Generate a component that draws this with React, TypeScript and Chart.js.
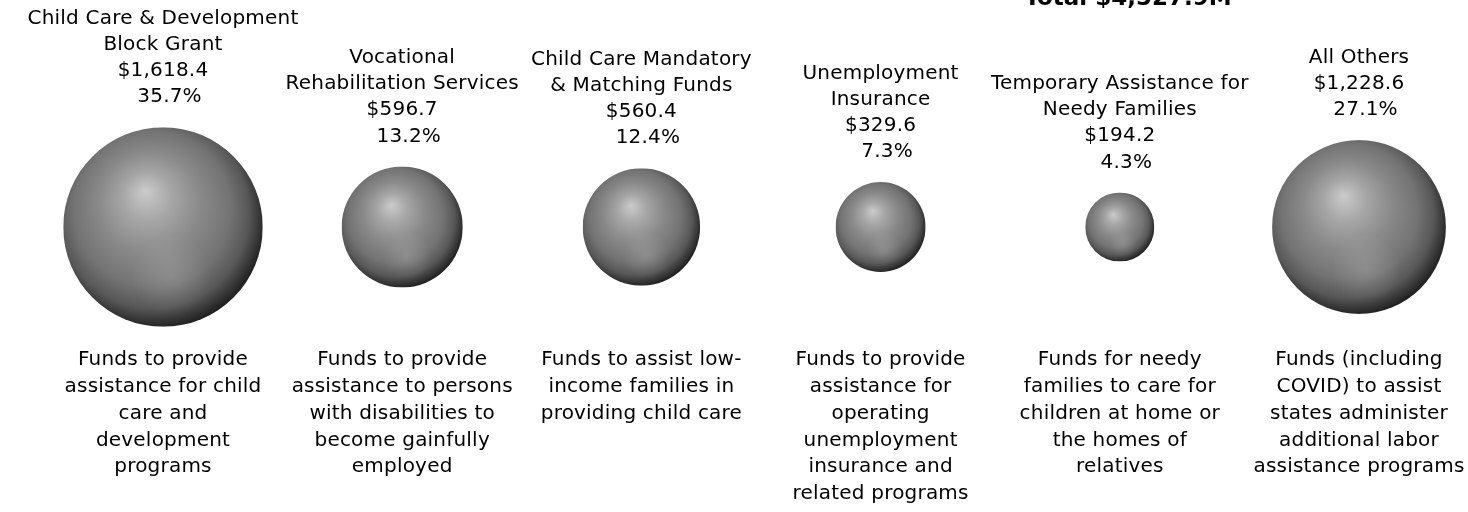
import React, { useEffect, useRef } from 'react';
import { Chart, registerables } from 'chart.js';

Chart.register(...registerables);

// ---- Data (values in $ millions) ----
const programs = [
  'Child Care & Development Block Grant',
  'Vocational Rehabilitation Services',
  'Child Care Mandatory & Matching Funds',
  'Unemployment Insurance',
  'Temporary Assistance for Needy Families',
  'All Others',
];
const amounts = [1618.4, 596.7, 560.4, 329.6, 194.2, 1228.6];
const nameLines = [
  ['Child Care & Development', 'Block Grant'],
  ['Vocational', 'Rehabilitation Services'],
  ['Child Care Mandatory', '& Matching Funds'],
  ['Unemployment', 'Insurance'],
  ['Temporary Assistance for', 'Needy Families'],
  ['All Others'],
];
const descLines = [
  ['Funds to provide', 'assistance for child', 'care and', 'development', 'programs'],
  ['Funds to provide', 'assistance to persons', 'with disabilities to', 'become gainfully', 'employed'],
  ['Funds to assist low-', 'income families in', 'providing child care'],
  ['Funds to provide', 'assistance for', 'operating', 'unemployment', 'insurance and', 'related programs'],
  ['Funds for needy', 'families to care for', 'children at home or', 'the homes of', 'relatives'],
  ['Funds (including', 'COVID) to assist', 'states administer', 'additional labor', 'assistance programs'],
];

const total = amounts.reduce((a, b) => a + b, 0);
const fmtMoney = (v: number) =>
  '$' + v.toLocaleString('en-US', { minimumFractionDigits: 1, maximumFractionDigits: 1 });
const titleText = 'Total ' + fmtMoney(total) + 'M';

const FONT = '"DejaVu Sans", sans-serif';
const RADIUS_K = 2.48; // px per sqrt($M), area-proportional bubbles

const spherePlugin = {
  id: 'spheres',
  afterDatasetsDraw(chart: any) {
    const c: CanvasRenderingContext2D = chart.ctx;
    const meta = chart.getDatasetMeta(0);
    meta.data.forEach((el: any, i: number) => {
      const x = el.x;
      const y = el.y;
      const r = el.options.radius;
      c.save();
      c.beginPath();
      c.arc(x, y, r, 0, Math.PI * 2);
      c.closePath();
      c.clip();
      const g = c.createRadialGradient(x - 0.18 * r, y - 0.36 * r, 0, x - 0.08 * r, y - 0.1 * r, 1.12 * r);
      g.addColorStop(0, '#cbcbcb');
      g.addColorStop(0.22, '#a6a6a6');
      g.addColorStop(0.45, '#8a8a8a');
      g.addColorStop(0.7, '#737373');
      g.addColorStop(0.85, '#585858');
      g.addColorStop(1, '#202020');
      c.fillStyle = g;
      c.fillRect(x - r, y - r, 2 * r, 2 * r);
      // soft bottom reflection
      const g2 = c.createRadialGradient(x + 0.08 * r, y + 0.48 * r, 0, x + 0.08 * r, y + 0.48 * r, 0.4 * r);
      g2.addColorStop(0, 'rgba(255,255,255,0.14)');
      g2.addColorStop(1, 'rgba(255,255,255,0)');
      c.fillStyle = g2;
      c.fillRect(x - r, y - r, 2 * r, 2 * r);
      c.restore();

      // top labels
      c.save();
      c.fillStyle = '#000';
      c.font = '20px ' + FONT;
      (c as any).letterSpacing = '0.2px';
      c.textAlign = 'center';
      c.textBaseline = 'middle';
      const pct = ((amounts[i] / total) * 100).toFixed(1) + '%';
      const top = [...nameLines[i], fmtMoney(amounts[i]), '  ' + pct];
      const lh = 26.2;
      const lastY = y - r - 30;
      top.forEach((t, k) => {
        c.fillText(t, x, lastY - (top.length - 1 - k) * lh);
      });
      // descriptions
      descLines[i].forEach((t, k) => {
        c.fillText(t, x, 360 + k * 26.8);
      });
      c.restore();
    });
    // partly visible title
    c.save();
    c.fillStyle = '#000';
    c.font = 'bold 23px ' + FONT;
    c.textAlign = 'center';
    c.textBaseline = 'alphabetic';
    c.fillText(titleText, 1128, 5);
    c.restore();
  },
};

export default function App() {
  const ref = useRef<HTMLCanvasElement | null>(null);
  useEffect(() => {
    document.body.style.margin = '0';
    document.body.style.overflow = 'hidden';
    if (!ref.current) return;
    const chart = new Chart(ref.current, {
      type: 'bubble',
      data: {
        datasets: [
          {
            label: 'Funding',
            data: amounts.map((v, i) => ({ x: i, y: 0, r: Math.sqrt(v) * RADIUS_K })),
            backgroundColor: 'rgba(0,0,0,0)',
            borderColor: 'rgba(0,0,0,0)',
            clip: false as any,
          },
        ],
        labels: programs,
      },
      options: {
        animation: false,
        responsive: true,
        maintainAspectRatio: false,
        layout: { autoPadding: false, padding: { left: 163, right: 109, top: 0, bottom: 58 } },
        scales: {
          x: { type: 'linear', min: 0, max: 5, display: false },
          y: { type: 'linear', min: -1, max: 1, display: false },
        },
        plugins: {
          legend: { display: false },
          tooltip: { enabled: false },
          title: { display: false },
        },
      },
      plugins: [spherePlugin],
    });
    return () => chart.destroy();
  }, []);
  return (
    <div style={{ width: 1468, height: 512, position: 'relative' }}>
      <canvas ref={ref} />
    </div>
  );
}
